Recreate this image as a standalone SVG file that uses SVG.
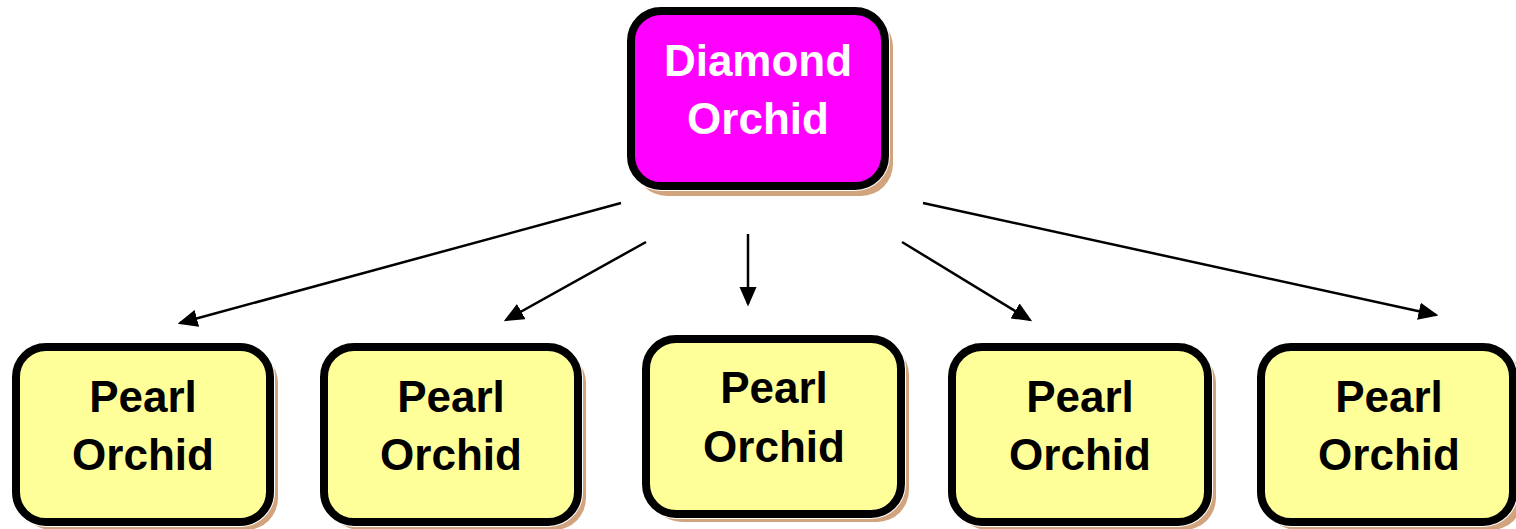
<svg xmlns="http://www.w3.org/2000/svg" width="1516" height="529" viewBox="0 0 1516 529">
<style>
.sh{fill:#D2A47E}
.halo{fill:none;stroke:#fff;stroke-width:10}
.box{stroke:#000;stroke-width:8}
.pearl{fill:#FFFF99}
.dia{fill:#FF00FF}
.t{font-family:"Liberation Sans",Arial,sans-serif;font-weight:bold;font-size:44px;text-anchor:middle}
.tb{fill:#000}
.tw{fill:#fff}
.c{fill:none;stroke:#000;stroke-width:2.5}
</style>
<defs>
<marker id="ah" markerWidth="8" markerHeight="7" refX="7" refY="3.5" orient="auto" markerUnits="strokeWidth">
<path d="M0,0 L8,3.5 L0,7 Z" fill="#000"/>
</marker>
</defs>
<g id="connectors">
<line class="c" x1="621" y1="203" x2="180" y2="323" marker-end="url(#ah)"/>
<line class="c" x1="646" y1="242" x2="506" y2="320" marker-end="url(#ah)"/>
<line class="c" x1="748" y1="234" x2="748" y2="304" marker-end="url(#ah)"/>
<line class="c" x1="902" y1="242" x2="1030" y2="320" marker-end="url(#ah)"/>
<line class="c" x1="923" y1="203" x2="1436" y2="315" marker-end="url(#ah)"/>
</g>
<g id="diamond">
<rect class="sh" x="635" y="15" width="258" height="181" rx="32"/>
<rect class="halo" x="631" y="11" width="254" height="175" rx="30"/>
<rect class="box dia" x="631" y="11" width="254" height="175" rx="30"/>
<text class="t tw" x="758" y="76">Diamond</text>
<text class="t tw" x="758" y="134">Orchid</text>
</g>
<g id="pearl1">
<rect class="sh" x="20" y="351" width="258" height="179" rx="32"/>
<rect class="halo" x="16" y="347" width="254" height="175" rx="30"/>
<rect class="box pearl" x="16" y="347" width="254" height="175" rx="30"/>
<text class="t tb" x="143" y="412">Pearl</text>
<text class="t tb" x="143" y="470">Orchid</text>
</g>
<g id="pearl2">
<rect class="sh" x="328" y="351" width="258" height="179" rx="32"/>
<rect class="halo" x="324" y="347" width="254" height="175" rx="30"/>
<rect class="box pearl" x="324" y="347" width="254" height="175" rx="30"/>
<text class="t tb" x="451" y="412">Pearl</text>
<text class="t tb" x="451" y="470">Orchid</text>
</g>
<g id="pearl3">
<rect class="sh" x="650" y="343" width="259" height="179" rx="32"/>
<rect class="halo" x="646" y="339" width="255" height="175" rx="30"/>
<rect class="box pearl" x="646" y="339" width="255" height="175" rx="30"/>
<text class="t tb" x="774" y="403">Pearl</text>
<text class="t tb" x="774" y="462">Orchid</text>
</g>
<g id="pearl4">
<rect class="sh" x="956" y="351" width="260" height="179" rx="32"/>
<rect class="halo" x="952" y="347" width="256" height="175" rx="30"/>
<rect class="box pearl" x="952" y="347" width="256" height="175" rx="30"/>
<text class="t tb" x="1080" y="412">Pearl</text>
<text class="t tb" x="1080" y="470">Orchid</text>
</g>
<g id="pearl5">
<rect class="sh" x="1265" y="351" width="258" height="179" rx="32"/>
<rect class="halo" x="1261" y="347" width="252" height="175" rx="30"/>
<rect class="box pearl" x="1261" y="347" width="252" height="175" rx="30"/>
<text class="t tb" x="1389" y="412">Pearl</text>
<text class="t tb" x="1389" y="470">Orchid</text>
</g>
</svg>
